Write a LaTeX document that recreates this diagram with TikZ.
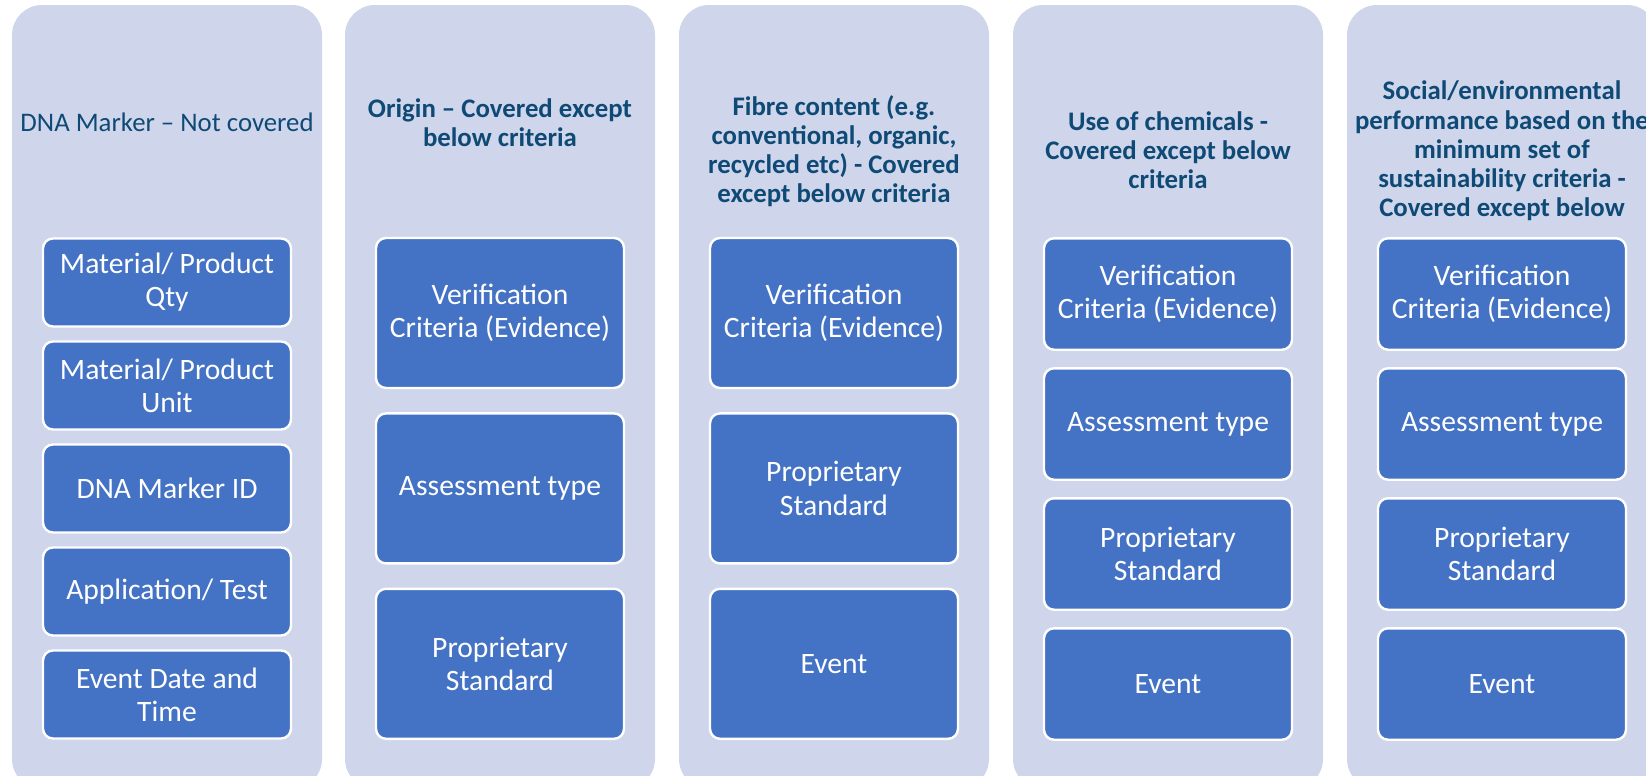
\documentclass[tikz,border=0pt]{standalone}
\usepackage{fontspec}
\setmainfont{Carlito}
\usetikzlibrary{positioning}

\definecolor{panelblue}{HTML}{CFD5EA}
\definecolor{cellblue}{HTML}{4472C4}
\definecolor{headblue}{HTML}{0E4A75}

\tikzset{
  panel/.style={fill=panelblue, rounded corners=15pt, inner sep=0pt,
    minimum width=155pt, minimum height=392pt},
  cell/.style={fill=cellblue, draw=white, line width=1.2pt, rounded corners=5pt,
    text=white, align=center, inner sep=0pt, minimum width=124pt,
    font=\fontsize{14.8pt}{16.6pt}\selectfont},
  head/.style={text=headblue, align=center, inner sep=0pt,
    font=\fontsize{13.4pt}{14.6pt}\selectfont\bfseries},
}

\begin{document}
\begin{tikzpicture}[x=0.5pt, y=-0.5pt]
    \useasboundingbox (0,0) rectangle (1646,776);
    \clip (0,0) rectangle (1646,776);

    % background panels
    \node [panel] (p1) at (167,397) {};
    \node [panel] (p2) at (500,397) {};
    \node [panel] (p3) at (834,397) {};
    \node [panel] (p4) at (1168,397) {};
    \node [panel] (p5) at (1502,397) {};

    % headings
    \node [head, font=\fontsize{13.4pt}{14.6pt}\selectfont] (h1) at (167,122) {DNA Marker -- Not covered};
    \node [head] (h2) at (500,123) {Origin -- Covered except\\below criteria};
    \node [head] (h3) at (834,151) {Fibre content (e.g.\\conventional, organic,\\recycled etc) - Covered\\except below criteria};
    \node [head] (h4) at (1168,150) {Use of chemicals -\\Covered except below\\criteria};
    \node [head] (h5) at (1502,151) {Social/environmental\\performance based on the\\minimum set of\\sustainability criteria -\\Covered except below};

    % DNA marker
    \begin{scope}[cell/.append style={minimum height=44pt}, node distance=6.3pt]
    \node [cell] (m1) at (167,282.5) {Material/ Product\\Qty};
    \node [cell, below=of m1] (m2) {Material/ Product\\Unit};
    \node [cell, below=of m2] (m3) {DNA Marker ID};
    \node [cell, below=of m3] (m4) {Application/ Test};
    \node [cell, below=of m4] (m5) {Event Date and\\Time};
    \end{scope}

    % origin
    \begin{scope}[cell/.append style={minimum height=75pt}, node distance=11.5pt]
    \node [cell] (o1) at (500,313) {Verification\\Criteria (Evidence)};
    \node [cell, below=of o1] (o2) {Assessment type};
    \node [cell, below=of o2] (o3) {Proprietary\\Standard};
    \end{scope}

    % fibre content
    \begin{scope}[cell/.append style={minimum height=75pt}, node distance=11.5pt]
    \node [cell] (f1) at (834,313) {Verification\\Criteria (Evidence)};
    \node [cell, below=of f1] (f2) {Proprietary\\Standard};
    \node [cell, below=of f2] (f3) {Event};
    \end{scope}

    % chemicals
    \begin{scope}[cell/.append style={minimum height=55.7pt}, node distance=8.1pt]
    \node [cell] (c1) at (1168,294) {Verification\\Criteria (Evidence)};
    \node [cell, below=of c1] (c2) {Assessment type};
    \node [cell, below=of c2] (c3) {Proprietary\\Standard};
    \node [cell, below=of c3] (c4) {Event};
    \end{scope}

    % social/environmental
    \begin{scope}[cell/.append style={minimum height=55.7pt}, node distance=8.1pt]
    \node [cell] (s1) at (1502,294) {Verification\\Criteria (Evidence)};
    \node [cell, below=of s1] (s2) {Assessment type};
    \node [cell, below=of s2] (s3) {Proprietary\\Standard};
    \node [cell, below=of s3] (s4) {Event};
    \end{scope}

\end{tikzpicture}
\end{document}
